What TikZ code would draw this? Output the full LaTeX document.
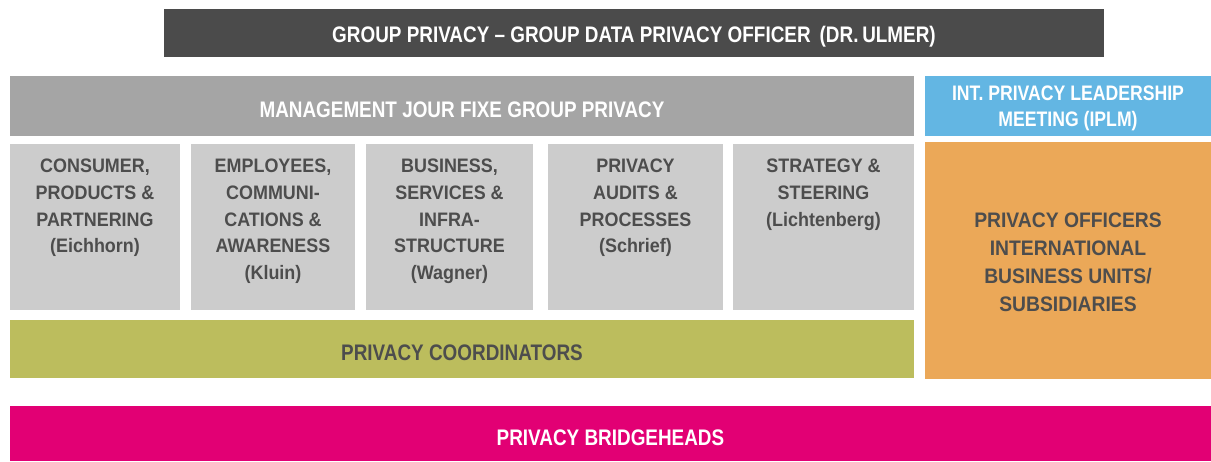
\documentclass[tikz,border=0pt]{standalone}
\usepackage{fontspec}
\setmainfont{Liberation Sans}[FakeStretch=0.92]
\newfontfamily\bigfont{Liberation Sans}[FakeStretch=0.84,Ligatures=TeX]
\definecolor{cDark}{HTML}{4B4B4B}
\definecolor{cMgmt}{HTML}{A5A5A5}
\definecolor{cSub}{HTML}{CCCCCC}
\definecolor{cBlue}{HTML}{63B6E3}
\definecolor{cOrange}{HTML}{EBA858}
\definecolor{cGreen}{HTML}{BCBD5D}
\definecolor{cPink}{HTML}{E20074}
\definecolor{cText}{HTML}{4D4D4D}
\tikzset{
  bar/.style={anchor=north west, inner sep=0pt, outer sep=0pt, draw=none, rectangle, align=center},
  bigtxt/.style={font=\bigfont\bfseries\fontsize{22.5}{28}\selectfont},
  subbox/.style={bar, fill=cSub, text=cText, font=\bfseries\fontsize{19.5}{26.7}\selectfont},
}
\newcommand{\subtext}[3]{\parbox[c][#2][t]{#1}{\centering\vspace*{15pt}#3\par}}
\newcommand{\down}[2]{\raisebox{-#1}[\height][\depth]{#2}}
\newcommand{\multi}[3]{\raisebox{-#1}[\height][\depth]{\parbox{#2}{\centering #3\par}}}
\begin{document}
\begin{tikzpicture}[x=1pt,y=-1pt]
\useasboundingbox[fill=white] (0,0) rectangle (1211,461);
\node[bar, bigtxt, fill=cDark, text=white, minimum width=940pt, minimum height=48pt] (gdpo) at (164,9)
  {\down{3.5pt}{GROUP PRIVACY – GROUP DATA PRIVACY OFFICER\hspace{9pt}(DR.\,ULMER)}};
\node[bar, bigtxt, fill=cMgmt, text=white, minimum width=904pt, minimum height=60pt] (mgmt) at (10,76)
  {\down{3.5pt}{MANAGEMENT JOUR FIXE GROUP PRIVACY}};
\node[bar, fill=cBlue, text=white, font=\bigfont\bfseries\fontsize{21}{25.5}\selectfont, minimum width=286pt, minimum height=60pt] (iplm) at (925,76)
  {\multi{2.5pt}{286pt}{INT. PRIVACY LEADERSHIP\\MEETING (IPLM)}};
\node[subbox] (s1) at (10,144) {\subtext{170pt}{166pt}{CONSUMER,\\PRODUCTS \&\\PARTNERING\\(Eichhorn)}};
\node[subbox] (s2) at (191,144) {\subtext{164pt}{166pt}{EMPLOYEES,\\COMMUNI-\\CATIONS \&\\AWARENESS\\(Kluin)}};
\node[subbox] (s3) at (366,144) {\subtext{167pt}{166pt}{BUSINESS,\\SERVICES \&\\INFRA-\\STRUCTURE\\(Wagner)}};
\node[subbox] (s4) at (548,144) {\subtext{175pt}{166pt}{PRIVACY\\AUDITS \&\\PROCESSES\\(Schrief)}};
\node[subbox] (s5) at (733,144) {\subtext{181pt}{166pt}{STRATEGY \&\\STEERING\\(Lichtenberg)}};
\node[bar, fill=cOrange, text=cText, font=\bfseries\fontsize{21}{28}\selectfont, minimum width=286pt, minimum height=237pt] (po) at (925,142)
  {\multi{1.5pt}{286pt}{PRIVACY OFFICERS\\INTERNATIONAL\\BUSINESS UNITS/\\SUBSIDIARIES}};
\node[bar, bigtxt, fill=cGreen, text=cText, minimum width=904pt, minimum height=58pt] (pc) at (10,320)
  {\down{4pt}{PRIVACY COORDINATORS}};
\node[bar, bigtxt, fill=cPink, text=white, minimum width=1201pt, minimum height=55pt] (pb) at (10,406)
  {\down{4.5pt}{PRIVACY BRIDGEHEADS}};
\end{tikzpicture}
\end{document}
